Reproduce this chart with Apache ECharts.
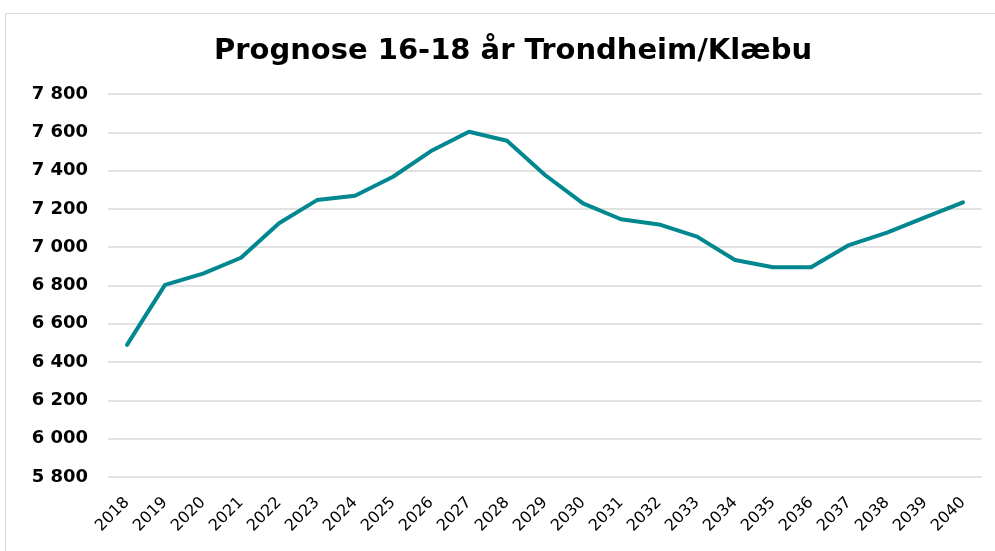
<!DOCTYPE html>
<html>
<head>
<meta charset="utf-8">
<script src="https://cdn.jsdelivr.net/npm/echarts@6/dist/echarts.min.js"></script>
<style>
  html, body { margin: 0; padding: 0; background: #fff; }
  #frame {
    position: absolute; left: 5px; top: 13px; width: 1000px; height: 560px;
    border: 1px solid #d9d9d9; box-sizing: border-box;
  }
  #main { position: absolute; left: 0; top: 0; width: 995px; height: 551px; }
</style>
</head>
<body>
<div id="frame"></div>
<div id="main"></div>
<script>
  // årstall
  const years = ['2018', '2019', '2020', '2021', '2022', '2023', '2024', '2025',
    '2026', '2027', '2028', '2029', '2030', '2031', '2032', '2033', '2034',
    '2035', '2036', '2037', '2038', '2039', '2040'];
  // prognose 16-18 år
  const prognose = [6490, 6803, 6862, 6945, 7125, 7246, 7269, 7368, 7502, 7603,
    7556, 7377, 7229, 7146, 7119, 7055, 6933, 6895, 6895, 7011, 7076, 7156, 7234];

  let chart = echarts.init(document.getElementById('main'));
  chart.setOption({
    animation: false,
    title: {
      text: 'Prognose 16-18 år Trondheim/Klæbu',
      left: 508,
      top: 32,
      textAlign: 'center',
      textStyle: {
        fontFamily: 'DejaVu Sans',
        fontWeight: 'bold',
        fontSize: 29,
        color: '#000'
      }
    },
    grid: {
      left: 108,
      right: 13,
      top: 94,
      bottom: 74
    },
    xAxis: {
      type: 'category',
      data: years,
      boundaryGap: true,
      axisLine: { show: false },
      axisTick: { show: false },
      axisLabel: {
        rotate: 45,
        interval: 0,
        margin: 23,
        fontFamily: 'DejaVu Sans',
        fontSize: 16,
        color: '#000'
      }
    },
    yAxis: {
      type: 'value',
      min: 5800,
      max: 7800,
      interval: 200,
      axisLine: { show: false },
      axisTick: { show: false },
      splitLine: { lineStyle: { color: '#d9d9d9', width: 1.5 } },
      axisLabel: {
        margin: 20,
        fontFamily: 'DejaVu Sans',
        fontWeight: 'bold',
        fontSize: 18,
        color: '#000',
        formatter: v => String(v).replace(/\B(?=(\d{3})+(?!\d))/g, ' ')
      }
    },
    series: [{
      type: 'line',
      data: prognose,
      showSymbol: false,
      lineStyle: { color: '#00878f', width: 4, cap: 'round', join: 'round' }
    }]
  });
</script>
</body>
</html>
